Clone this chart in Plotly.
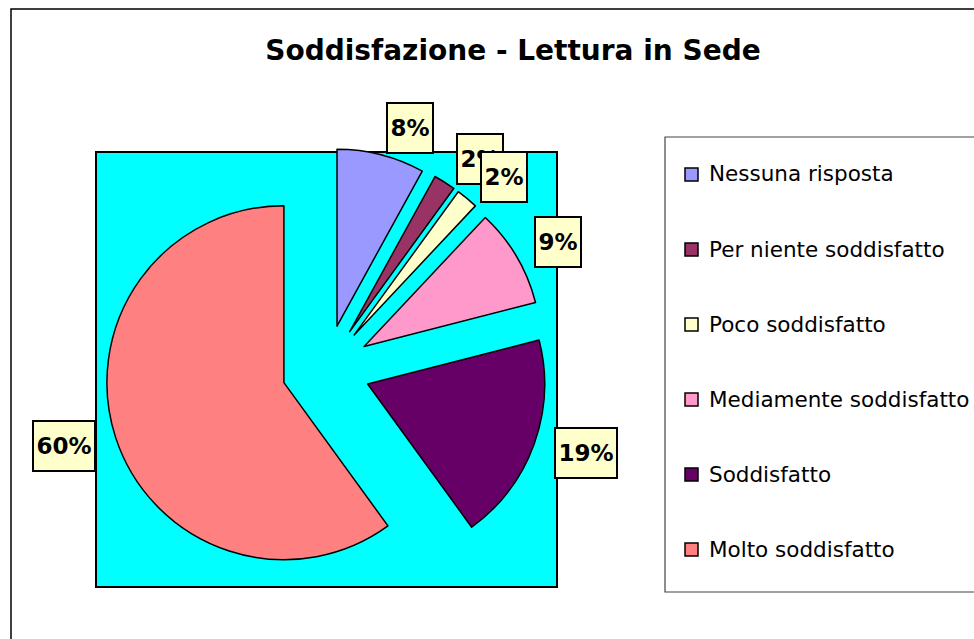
import math
import plotly.graph_objects as go

# ---- data ----
labels = ["Nessuna risposta", "Per niente soddisfatto", "Poco soddisfatto",
          "Mediamente soddisfatto", "Soddisfatto", "Molto soddisfatto"]
values = [8, 2, 2, 9, 19, 60]
colors = ["#9999FF", "#993366", "#FFFFCC", "#FF99CC", "#660066", "#FF8080"]
title_text = "Soddisfazione - Lettura in Sede"

# ---- layout helpers (pixel -> paper) ----
W, H = 974, 639
def px(x):
    return x / W
def py(y):
    return 1 - y / H

CX, CY = 326, 369      # pie centre (px)
R = 177                # pie radius (px)
PULL = 0.25
BOX = 2 * R * (1 + PULL)
LABEL_R = 242

fig = go.Figure()
fig.add_trace(go.Pie(
    labels=labels, values=values, sort=False, direction="clockwise", rotation=0,
    pull=[PULL] * len(values),
    marker=dict(colors=colors, line=dict(color="black", width=1.5)),
    textinfo="none", hoverinfo="label+percent", showlegend=False,
    domain=dict(x=[px(CX - BOX / 2), px(CX + BOX / 2)],
                y=[py(CY + BOX / 2), py(CY - BOX / 2)]),
))

shapes = [
    # outer chart frame
    dict(type="rect", xref="paper", yref="paper", x0=px(11), x1=px(990), y0=py(9), y1=py(660),
         line=dict(color="black", width=1.5), fillcolor="white", layer="below"),
    # cyan plot area
    dict(type="rect", xref="paper", yref="paper", x0=px(96), x1=px(557), y0=py(152), y1=py(587),
         line=dict(color="black", width=2), fillcolor="#00FFFF", layer="below"),
    # legend box
    dict(type="rect", xref="paper", yref="paper", x0=px(665), x1=px(990), y0=py(137), y1=py(592),
         line=dict(color="#444444", width=1.2), fillcolor="white", layer="below"),
]

annotations = []
total = sum(values)
cum = 0
for v in values:
    mid = (cum + v / 2) / total * 2 * math.pi
    cum += v
    s, c = math.sin(mid), math.cos(mid)
    lx = CX + LABEL_R * s
    ly = CY - LABEL_R * c - 7 * c
    txt = f"{round(v / total * 100)}%"
    annotations.append(dict(
        x=px(lx), y=py(ly), xref="paper", yref="paper",
        xanchor="left" if s > 0 else "right", yanchor="middle",
        text=f"<b>{txt}</b>", showarrow=False,
        font=dict(family="DejaVu Sans", size=23, color="black"),
        bgcolor="#FFFFCC", bordercolor="black", borderwidth=2, borderpad=1,
        width=16 * len(txt) + 10, height=46, align="center", valign="middle",
    ))

# custom legend
for i, (lab, col) in enumerate(zip(labels, colors)):
    yc = 174 + 75 * i
    shapes.append(dict(type="rect", xref="paper", yref="paper",
                       x0=px(685), x1=px(698), y0=py(yc - 6), y1=py(yc + 7),
                       line=dict(color="black", width=1.5), fillcolor=col))
    annotations.append(dict(
        x=px(707), y=py(yc), xref="paper", yref="paper", xanchor="left", yanchor="middle",
        text=lab, showarrow=False, font=dict(family="DejaVu Sans", size=21.5, color="black"),
    ))

fig.update_layout(
    width=W, height=H, margin=dict(l=0, r=0, t=0, b=0),
    paper_bgcolor="white",
    title=dict(text=f"<b>{title_text}</b>", x=px(513), xanchor="center", xref="paper",
               y=py(50), yanchor="middle", yref="paper",
               font=dict(family="DejaVu Sans", size=28, color="black")),
    shapes=shapes, annotations=annotations,
)

fig.write_html("out.html", config={"displayModeBar": False},
               post_script="document.body.style.margin='0';")
